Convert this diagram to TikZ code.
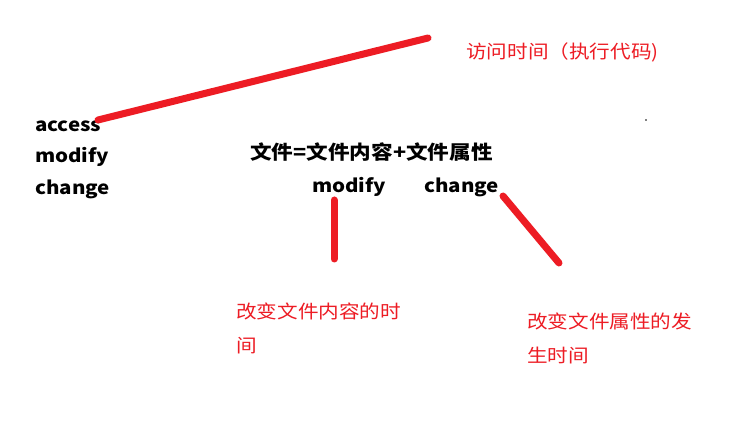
\documentclass[tikz,border=0pt]{standalone}
\usepackage{fontspec}
\setmainfont{Noto Sans CJK SC}[FakeStretch=1.12]
\definecolor{paintred}{HTML}{ED1C24}
\begin{document}
\begin{tikzpicture}[x=1pt,y=-1pt,
  blk/.style={inner sep=0pt,text=black,font=\fontsize{18.3}{22}\selectfont\bfseries},
  cjkblk/.style={inner sep=0pt,text=black,font=\fontsize{19.3}{22}\selectfont\bfseries},
  lbl/.style={inner sep=0pt,text=paintred,align=left,font=\fontsize{18.4}{34}\selectfont},
  stroke/.style={draw=paintred,line width=7pt,line cap=round}]
\useasboundingbox[fill=white] (0,0) rectangle (740,427);
% left column
\node[blk,anchor=west] (access) at (35,126) {access};
\node[blk,anchor=west] (modL) at (35,157) {modify};
\node[blk,anchor=west] (chgL) at (35,189) {change};
% formula
\node[cjkblk,anchor=west] (formula) at (250,152) {文件=文件内容+文件属性};
\node[blk,anchor=west] (modR) at (312,187) {modify};
\node[blk,anchor=west] (chgR) at (424,187) {change};
% labels
\node[lbl,anchor=west] (atime) at (466,52) {访问时间（执行代码)};
\node[lbl,anchor=north west] (mtime) at (236,303) {改变文件内容的时\\间};
\node[lbl,anchor=north west] (ctime) at (527,313) {改变文件属性的发\\生时间};
% stroke ends
\coordinate (a1) at (98,120);
\coordinate (a2) at (428,38);
\coordinate (m1) at (334,200);
\coordinate (m2) at (334,259);
\coordinate (c1) at (503,196);
\coordinate (c2) at (559,263);
\draw[stroke] (a1) -- (a2);
\draw[stroke] (m1) -- (m2);
\draw[stroke] (c1) -- (c2);
% stray dot
\fill[black] (646,120) circle (0.9);
\end{tikzpicture}
\end{document}
